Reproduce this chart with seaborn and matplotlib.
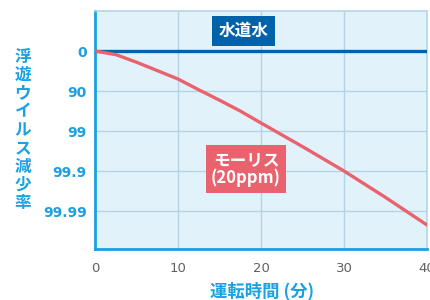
import pandas as pd
import seaborn as sns
import matplotlib.pyplot as plt

sns.set_theme(style='white')
plt.rcParams['font.family'] = ['Noto Sans CJK JP', 'DejaVu Sans']

# time (min) and log10 reduction of airborne virus
minutes = [0, 2.5, 5, 7.5, 10, 12.5, 15, 17.5, 20, 25, 30, 35, 40]
tap_water = [0, 0, 0, 0, 0, 0, 0, 0, 0, 0, 0, 0, 0]
molis = [0, 0.09, 0.28, 0.49, 0.7, 0.97, 1.23, 1.5, 1.8, 2.39, 3.0, 3.66, 4.35]

y_ticks = [0, 1, 2, 3, 4]
y_ticklabels = ['0', '90', '99', '99.9', '99.99']
x_ticks = [0, 10, 20, 30, 40]

df = pd.DataFrame({'min': minutes * 2,
                   'log': tap_water + molis,
                   'series': ['水道水'] * len(minutes) + ['モーリス'] * len(minutes)})

blue_dark = '#0063a9'
red = '#e9636f'
cyan = '#1ba0e2'
grid_c = '#b4d4e6'

fig = plt.figure(figsize=(4.31, 3.0), dpi=100)
ax = fig.add_axes([95 / 431, 51 / 300, 332 / 431, 238 / 300])
ax.set_facecolor('#e1f2fb')

sns.lineplot(data=df, x='min', y='log', hue='series',
             palette={'水道水': blue_dark, 'モーリス': red},
             linewidth=2.4, legend=False, ax=ax, zorder=3)

ax.set_xlim(0, 40)
ax.set_ylim(4.95, -1)
ax.set_xticks(x_ticks)
ax.set_yticks(y_ticks)
ax.set_yticklabels(y_ticklabels)
ax.grid(True, color=grid_c, linewidth=1)
ax.set_axisbelow(True)
ax.tick_params(axis='both', length=0)
ax.tick_params(axis='y', pad=6, labelsize=10, labelcolor=cyan)
ax.tick_params(axis='x', pad=9, labelsize=9.5, labelcolor='#606060')
for lab in ax.get_yticklabels():
    lab.set_fontweight('bold')
    lab.set_family('DejaVu Sans')
for lab in ax.get_xticklabels():
    lab.set_family('DejaVu Sans')
ax.set_xlabel('')
ax.set_ylabel('')

for side in ['left', 'bottom']:
    ax.spines[side].set_color(cyan)
    ax.spines[side].set_linewidth(2)
for side in ['top', 'right']:
    ax.spines[side].set_color(grid_c)
    ax.spines[side].set_linewidth(1.2)

ax.text(17.9, -0.5, '水道水', color='white', fontsize=12, fontweight='bold',
        ha='center', va='center', zorder=5,
        bbox=dict(boxstyle='square,pad=0.38', fc=blue_dark, ec='none'))
ax.text(18.2, 2.95, 'モーリス\n(20ppm)', color='white', fontsize=12, fontweight='bold',
        ha='center', va='center', linespacing=1.0, zorder=5,
        bbox=dict(boxstyle='square,pad=0.32', fc=red, ec='none'))

fig.text(23 / 431, 1 - 130 / 300, '\n'.join('浮遊ウイルス減少率'), color=cyan,
         fontsize=12, fontweight='bold', ha='center', va='center', linespacing=1.02)
fig.text(262 / 431, 1 - 291 / 300, '運転時間 (分)', color=cyan,
         fontsize=12.5, fontweight='bold', ha='center', va='center')

fig.savefig('out.png', dpi=100)
